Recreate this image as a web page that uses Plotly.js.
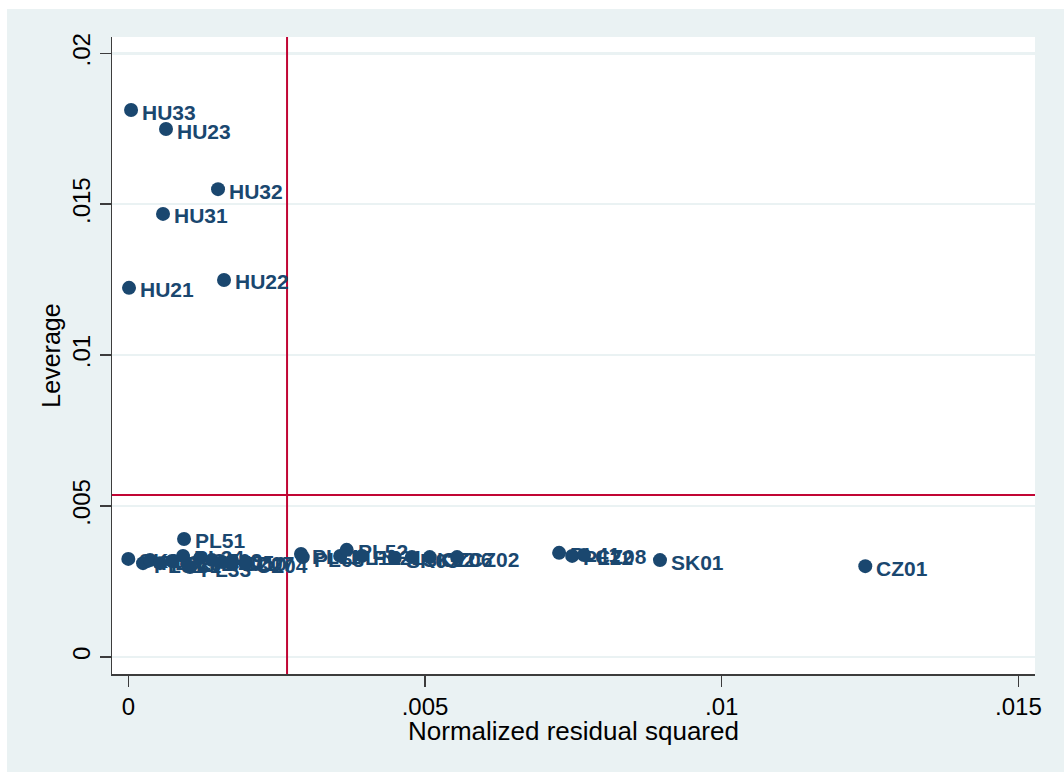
<!DOCTYPE html>
<html>
<head>
<meta charset="utf-8">
<script src="https://cdn.plot.ly/plotly-3.0.1.min.js"></script>
<style>
html,body{margin:0;padding:0;background:#ffffff;}
#chart{position:absolute;left:7px;top:9px;width:1057px;height:763px;}
</style>
</head>
<body>
<div id="chart"></div>
<script>
// Region labels
const regions = [
  "HU33","HU23","HU32","HU31","HU21","HU22","PL51",
  "SK04","PL61","PL62","PL31","PL32","PL34","PL33","CZ03","CZ05","HU10","CZ07","CZ04",
  "PL11","PL63","PL12","PL52","PL21","SK03","SK02","CZ06","CZ02",
  "PL41","PL22","CZ08","SK01","CZ01"
];
// Normalized residual squared
const resid2 = [
  0.000046,0.000635,0.001512,0.000585,0.000012,0.001613,0.000939,
  0.000000,0.000248,0.000366,0.000534,0.000737,0.000922,0.00104,0.00121,0.00141,0.00158,0.00175,0.00197,
  0.00291,0.00294,0.00357,0.00368,0.00394,0.00449,0.00478,0.00508,0.00554,
  0.00726,0.00748,0.00768,0.00896,0.01242
];
// Leverage
const leverage = [
  0.01812,0.01749,0.01550,0.01468,0.01223,0.01249,0.00391,
  0.00325,0.00311,0.00321,0.00311,0.00318,0.00335,0.00298,0.00328,0.00321,0.00315,0.00318,0.00311,
  0.00341,0.00331,0.00335,0.00355,0.00335,0.00328,0.00331,0.00331,0.00331,
  0.00345,0.00335,0.00338,0.00321,0.00301
];
// Reference lines: mean leverage and mean normalized residual squared
const meanLeverage = 0.005367;
const meanResid2 = 0.002675;

const xTicks = [0,0.005,0.01,0.015];
const xTickText = ["0",".005",".01",".015"];
const yTicks = [0,0.005,0.01,0.015,0.02];
const yTickText = ["0",".005",".01",".015",".02"];
const xTitle = "Normalized residual squared";
const yTitle = "Leverage";

const navy = "#1a476f";
const red = "#c10534";
const fam = "Liberation Sans, Arial, sans-serif";

const trace = {
  type: "scatter",
  mode: "markers",
  x: resid2,
  y: leverage,
  marker: {color: navy, size: 14, line: {width: 0}},
  cliponaxis: false,
  hoverinfo: "skip"
};

const labels = regions.map((r, i) => ({
  x: resid2[i], y: leverage[i], xref: "x", yref: "y",
  text: "<b>" + r + "</b>", showarrow: false,
  xanchor: "left", yanchor: "middle",
  xshift: 9, yshift: -2,
  font: {family: fam, size: 21, color: navy}
}));

labels.push({
  x: 0.5, y: 0, xref: "paper", yref: "paper",
  text: xTitle, showarrow: false,
  xanchor: "center", yanchor: "middle", yshift: -57,
  font: {family: fam, size: 26, color: "#000000"}
});

const layout = {
  width: 1057, height: 763,
  paper_bgcolor: "#eaf2f3",
  plot_bgcolor: "#ffffff",
  margin: {l: 105, r: 29, t: 28, b: 98},
  showlegend: false,
  font: {family: fam, size: 24, color: "#000000"},
  xaxis: {
    range: [-0.000275, 0.01528],
    tickvals: xTicks, ticktext: xTickText,
    showgrid: false, zeroline: false,
    showline: true, linecolor: "#3c3c3c", linewidth: 1.5,
    ticks: "outside", ticklen: 11, tickwidth: 1.5, tickcolor: "#3c3c3c",
    tickfont: {size: 24, color: "#000000"}
  },
  yaxis: {
    range: [-0.000563, 0.02054],
    tickvals: yTicks, ticktext: yTickText,
    tickangle: -90,
    showgrid: true, gridcolor: "#eaf2f3", gridwidth: 2.5,
    zeroline: false,
    showline: true, linecolor: "#3c3c3c", linewidth: 1.5,
    ticks: "outside", ticklen: 11, tickwidth: 1.5, tickcolor: "#3c3c3c",
    tickfont: {size: 24, color: "#000000"},
    title: {text: yTitle, font: {size: 25, color: "#000000"}, standoff: 0}
  },
  annotations: labels,
  shapes: [
    {type: "line", xref: "paper", yref: "y", x0: 0, x1: 1, y0: meanLeverage, y1: meanLeverage,
     line: {color: red, width: 2}},
    {type: "line", xref: "x", yref: "paper", x0: meanResid2, x1: meanResid2, y0: 0, y1: 1,
     line: {color: red, width: 2}}
  ]
};

Plotly.newPlot("chart", [trace], layout, {displayModeBar: false, staticPlot: true});
</script>
</body>
</html>
